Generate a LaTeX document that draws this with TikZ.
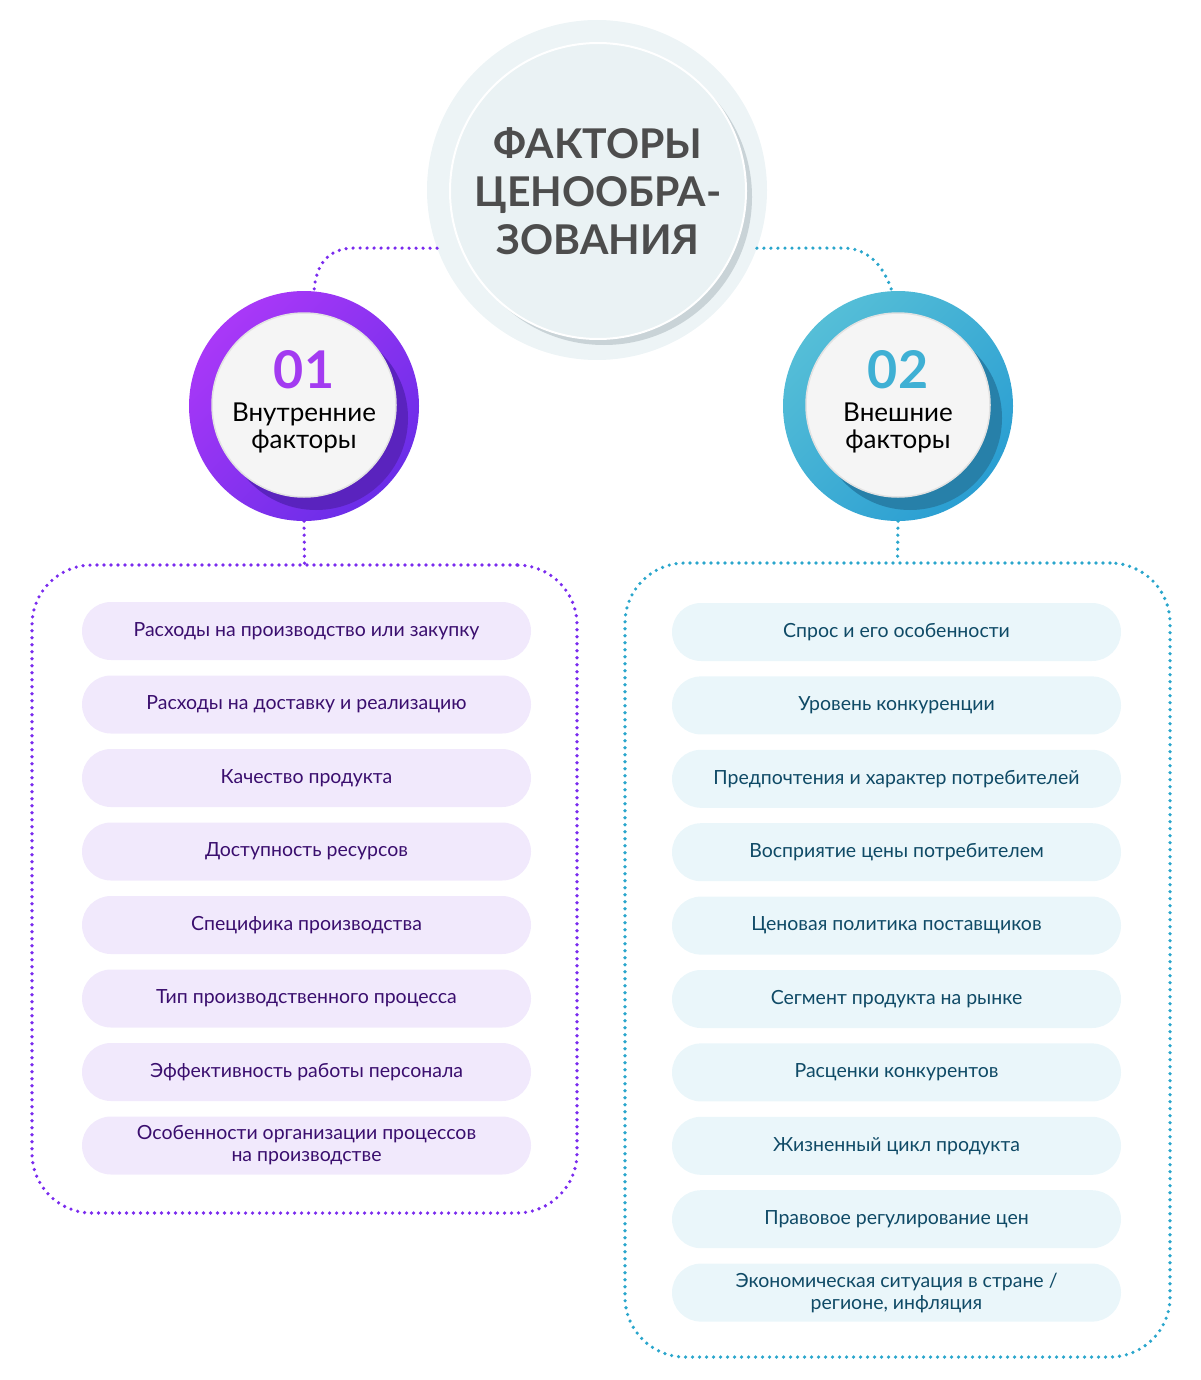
\documentclass[tikz,border=0pt]{standalone}
\usepackage{fontspec}
\setmainfont{Lato}
\definecolor{corering}{HTML}{EDF4F6}
\definecolor{corefill}{HTML}{EAF2F4}
\definecolor{coreshade}{HTML}{C9D3D7}
\definecolor{titlegray}{HTML}{4D4D4D}
\definecolor{violetlight}{HTML}{A938F8}
\definecolor{violetdark}{HTML}{6A2DE8}
\definecolor{violetshade}{HTML}{5A23BE}
\definecolor{violetnum}{HTML}{A33BF1}
\definecolor{violetdot}{HTML}{7A2BEE}
\definecolor{violetpill}{HTML}{F1E9FC}
\definecolor{violettext}{HTML}{3A0E6E}
\definecolor{tealight}{HTML}{55BED7}
\definecolor{teadark}{HTML}{2A9ED2}
\definecolor{teashade}{HTML}{2780A9}
\definecolor{teanum}{HTML}{3FB0D4}
\definecolor{teadot}{HTML}{2AA6CC}
\definecolor{teapill}{HTML}{EAF6FA}
\definecolor{teatext}{HTML}{0F4A66}
\definecolor{innerrim}{HTML}{E2E2E2}
\tikzset{
  dots/.style={line width=3.6pt, line cap=round, dash pattern=on 0pt off 7pt},
  ring/.style={circle, minimum size=230pt, inner sep=0pt},
  face/.style={circle, minimum size=184pt, inner sep=0pt, fill=white!96!black, draw=innerrim, line width=1.5pt},
  num/.style={font=\fontsize{52}{52}\selectfont\bfseries},
  facetext/.style={align=center, font=\fontsize{26}{27}\selectfont},
  pill/.style={rounded corners=28.9pt, minimum width=449pt, minimum height=58pt, inner sep=0pt, align=center, font=\fontsize{19.5}{22}\selectfont},
  frame/.style={dots, rounded corners=60pt, minimum width=545pt, inner sep=0pt}
}
\begin{document}
\begin{tikzpicture}[x=1pt, y=1pt]
  \useasboundingbox (0,0) rectangle (1200,-1380);
  % centre
  \node[circle, fill=corering, minimum size=340pt, inner sep=0pt] (core) at (597,-190) {};
  \fill[coreshade] (604,-197) circle (148);
  \node[circle, fill=corefill, draw=white, line width=2pt, minimum size=296pt, inner sep=0pt,
        align=center, text=titlegray, font=\fontsize{41}{48}\selectfont\bfseries] (title) at (598,-191)
        {ФАКТОРЫ\\ЦЕНООБРА-\\ЗОВАНИЯ};

  % internal
  \node[ring, top color=violetlight, bottom color=violetdark, shading angle=45] (internal) at (304,-406) {};
  \fill[violetshade] (316,-418) circle (92);
  \node[face] (intface) at (304,-405) {};
  \node[num, text=violetnum] (intnum) at (304,-370) {01};
  \node[facetext] (intlabel) at (304,-428) {Внутренние\\факторы};

  % external
  \node[ring, top color=tealight, bottom color=teadark, shading angle=45] (external) at (898,-406) {};
  \fill[teashade] (910,-418) circle (92);
  \node[face] (extface) at (898,-405) {};
  \node[num, text=teanum] (extnum) at (898,-370) {02};
  \node[facetext] (extlabel) at (898,-428) {Внешние\\факторы};

  % frames
  \node[frame, draw=violetdot, minimum height=648pt] (intbox) at (304.5,-889) {};
  \node[frame, draw=teadot, minimum height=794pt] (extbox) at (897.5,-960) {};

  % links
  \draw[dots, violetdot] (core.200) -- (355,-248) .. controls (330,-248) and (316,-262) .. (internal.85);
  \draw[dots, teadot] (core.340) -- (842,-248) .. controls (866,-248) and (882,-262) .. (external.93);
  \draw[dots, violetdot] (internal.south) -- (intbox.north);
  \draw[dots, teadot] (external.south) -- (extbox.north);

  % items
  \foreach \t [count=\i] in {Расходы на производство или закупку, Расходы на доставку и реализацию,
      Качество продукта, Доступность ресурсов, Специфика производства,
      Тип производственного процесса, Эффективность работы персонала,
      {Особенности организации процессов\\на производстве}}
    \node[pill, fill=violetpill, text=violettext] (int\i) at (306.5,{-631-73.5*(\i-1)}) {\t};
  \foreach \t [count=\i] in {Спрос и его особенности, Уровень конкуренции,
      Предпочтения и характер потребителей, Восприятие цены потребителем,
      Ценовая политика поставщиков, Сегмент продукта на рынке, Расценки конкурентов,
      Жизненный цикл продукта, Правовое регулирование цен,
      {Экономическая ситуация в стране /\\регионе, инфляция}}
    \node[pill, fill=teapill, text=teatext] (ext\i) at (896.5,{-632-73.4*(\i-1)}) {\t};
\end{tikzpicture}
\end{document}
